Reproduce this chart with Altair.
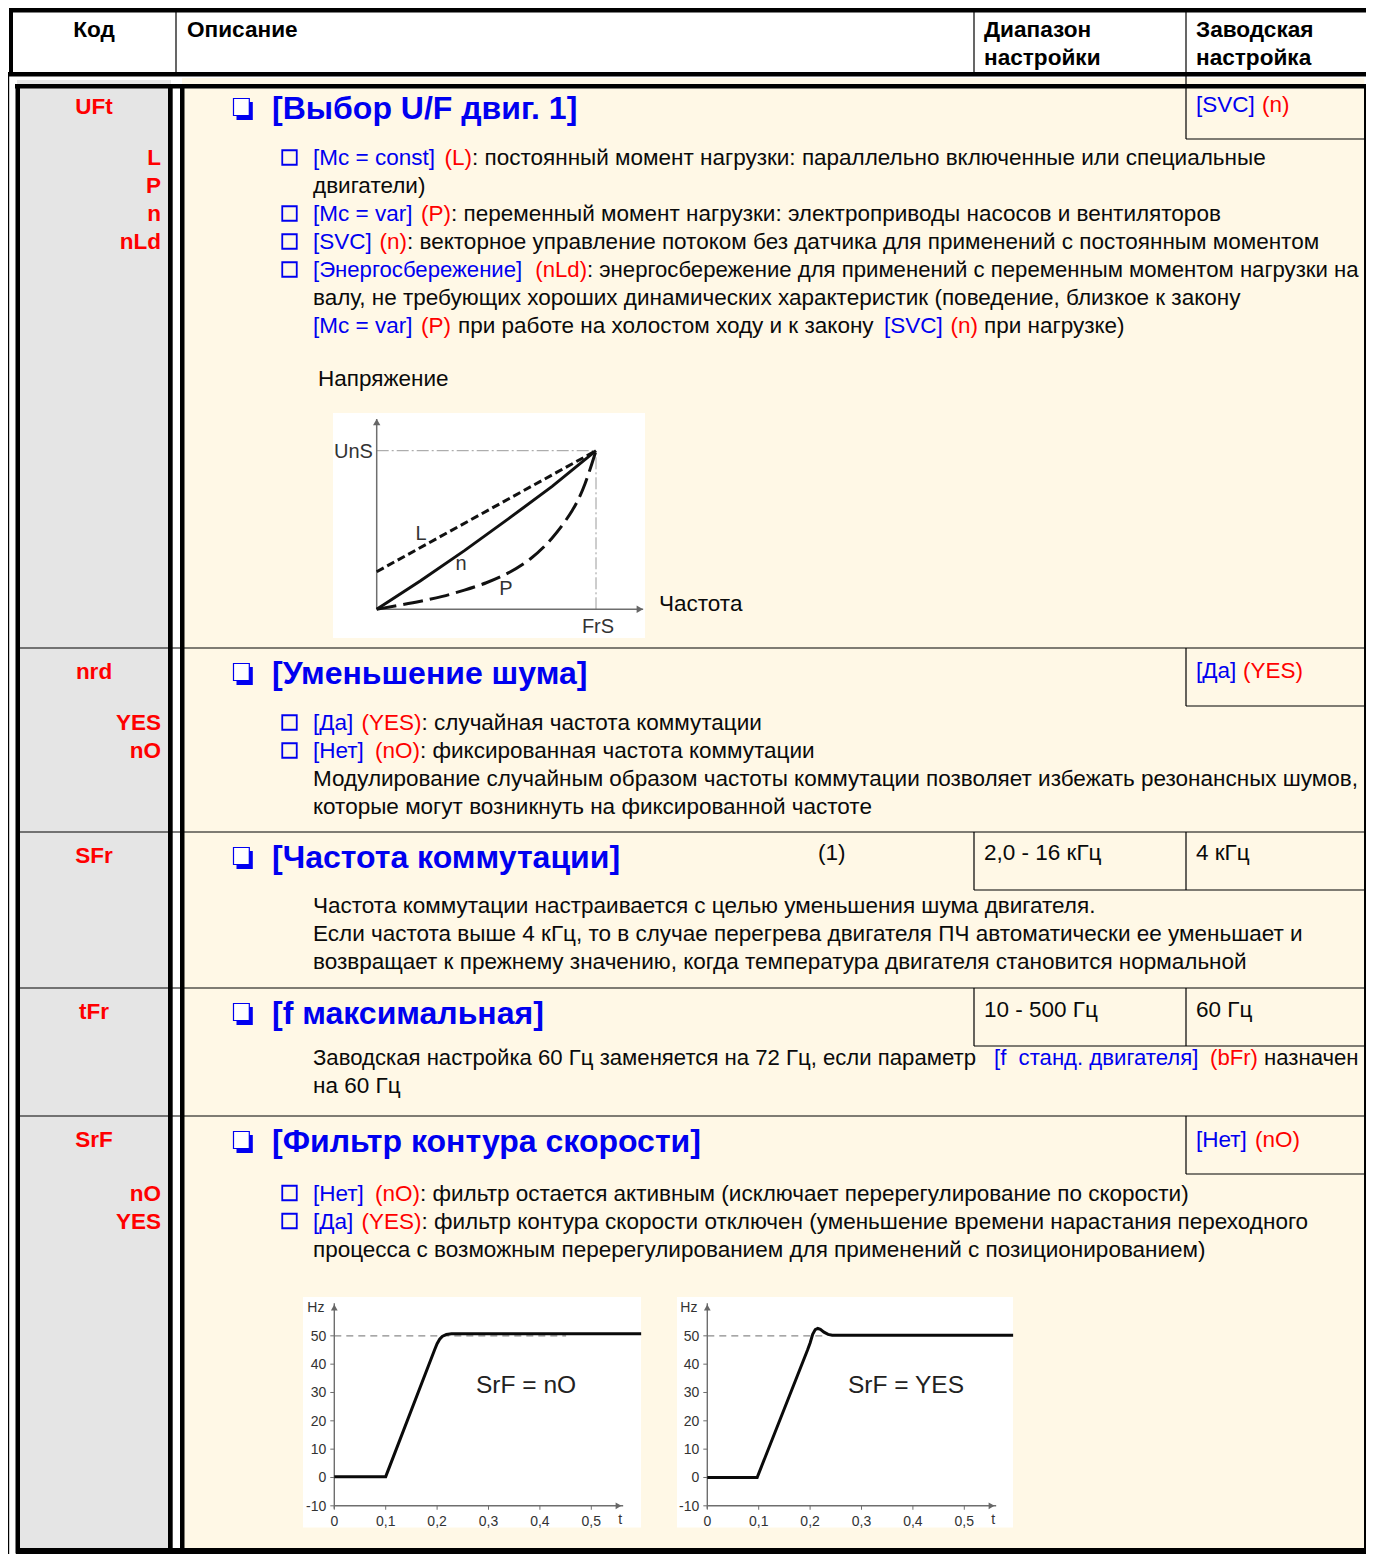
import altair as alt
import pandas as pd

# ======================= CONTENT =======================
header_labels = ["Код", "Описание", "Диапазон", "настройки", "Заводская", "настройка"]
codes = ["UFt", "nrd", "SFr", "tFr", "SrF"]
sub_codes = [["L", "P", "n", "nLd"], ["YES", "nO"], [], [], ["nO", "YES"]]
titles = ["[Выбор U/F двиг. 1]", "[Уменьшение шума]", "[Частота коммутации]",
          "[f максимальная]", "[Фильтр контура скорости]"]
range_values = ["", "", "2,0 - 16 кГц", "10 - 500 Гц", ""]
default_values = [["[SVC]", "(n)"], ["[Да]", "(YES)"], ["4 кГц"], ["60 Гц"], ["[Нет]", "(nO)"]]
note_mark = "(1)"

body_lines = [
    [["[Mc = const]", "(L)", ": постоянный момент нагрузки: параллельно включенные или специальные"],
     ["двигатели)"],
     ["[Mc = var]", "(P)", ": переменный момент нагрузки: электроприводы насосов и вентиляторов"],
     ["[SVC]", "(n)", ": векторное управление потоком без датчика для применений с постоянным моментом"],
     ["[Энергосбережение]", "(nLd)", ": энергосбережение для применений с переменным моментом нагрузки на"],
     ["валу, не требующих хороших динамических характеристик (поведение, близкое к закону"],
     ["[Mc = var]", "(P)", "при работе на холостом ходу и к закону", "[SVC]", "(n)", "при нагрузке)"]],
    [["[Да]", "(YES)", ": случайная частота коммутации"],
     ["[Нет]", "(nO)", ": фиксированная частота коммутации"],
     ["Модулирование случайным образом частоты коммутации позволяет избежать резонансных шумов,"],
     ["которые могут возникнуть на фиксированной частоте"]],
    [["Частота коммутации настраивается с целью уменьшения шума двигателя."],
     ["Если частота выше 4 кГц, то в случае перегрева двигателя ПЧ автоматически ее уменьшает и"],
     ["возвращает к прежнему значению, когда температура двигателя становится нормальной"]],
    [["Заводская настройка 60 Гц заменяется на 72 Гц, если параметр", "[f\u00a0 станд. двигателя]", "(bFr)", "назначен"],
     ["на 60 Гц"]],
    [["[Нет]", "(nO)", ": фильтр остается активным (исключает перерегулирование по скорости)"],
     ["[Да]", "(YES)", ": фильтр контура скорости отключен (уменьшение времени нарастания переходного"],
     ["процесса с возможным перерегулированием для применений с позиционированием)"]],
]

# U/F diagram (normalised frequency f, voltage U)
uf_axis_labels = ["UnS", "FrS", "Напряжение", "Частота"]
uf_curve_labels = ["L", "n", "P"]
uf_L_f = [0.0, 1.0]
uf_L_U = [0.237, 1.0]
uf_n_f = [0.0, 0.2, 0.4, 0.6, 0.8, 1.0]
uf_n_U = [0.0, 0.18, 0.37, 0.57, 0.775, 1.0]
uf_P_f = [0.0, 0.1, 0.2, 0.3, 0.4, 0.5, 0.6, 0.7, 0.8, 0.9, 0.95, 1.0]
uf_P_U = [0.0, 0.025, 0.05, 0.08, 0.12, 0.165, 0.225, 0.31, 0.44, 0.63, 0.78, 1.0]

# step responses (t in s, Hz)
step_t_no = [0.0, 0.1, 0.195, 0.2, 0.205, 0.21, 0.218, 0.228, 0.597]
step_hz_no = [0.3, 0.3, 45.0, 47.2, 48.8, 49.8, 50.5, 50.7, 50.7]
step_t_yes = [0.0, 0.097, 0.195, 0.2, 0.205, 0.21, 0.215, 0.22, 0.227, 0.235, 0.243, 0.595]
step_hz_yes = [0.0, 0.0, 45.0, 47.5, 50.5, 52.2, 52.6, 52.3, 51.3, 50.5, 50.2, 50.2]
ref_t_no = [0.0, 0.451]
ref_t_yes = [0.0, 0.233]
ref_hz = [50.0, 50.0]
hz_ticks = [50, 40, 30, 20, 10, 0, -10]
t_ticks = [0.0, 0.1, 0.2, 0.3, 0.4, 0.5]
t_tick_labels = ["0", "0,1", "0,2", "0,3", "0,4", "0,5"]
step_titles = ["SrF = nO", "SrF = YES"]

# ======================= STYLE / LAYOUT =======================
FONT = "Liberation Sans"
BLUE = "#0000F0"
RED = "#FF0000"
BLACK = "#000000"
GRAY_COL = "#E5E5E5"
CREAM = "#FFF8E6"
CKEY = {"b": BLUE, "r": RED, "k": "#0A0A0A"}
FS_BODY = 22.5
FS_TIGHT = 22.15
FS_HEAD = 22.6
FS_TITLE = 32
FS_CODE = 22.5

PW, PH = 1358, 1546
# page-pixel frame; the last few pixels at the right and bottom are squeezed so the page fits
SX = alt.Scale(domain=[8, 1362, 1374], range=[0, 1354, 1358], nice=False, zero=False)
SY = alt.Scale(domain=[8, 1262, 1300, 1562], range=[0, 1254, 1288, 1546], nice=False, zero=False)


def X(f):
    return alt.X(f, type="quantitative", scale=SX, axis=None)


def Y(f):
    return alt.Y(f, type="quantitative", scale=SY, axis=None)


def rects(rows, **mk):
    df = pd.DataFrame(rows, columns=["x1", "x2", "y1", "y2", "c"])
    return alt.Chart(df).mark_rect(**mk).encode(
        x=X("x1"), x2=alt.X2("x2"), y=Y("y1"), y2=alt.Y2("y2"),
        color=alt.Color("c:N", scale=None))


def texts(rows, size, weight="normal", align="left", font=FONT):
    df = pd.DataFrame(rows, columns=["t", "px", "py", "c"])
    return alt.Chart(df).mark_text(align=align, baseline="alphabetic", fontSize=size,
                                   fontWeight=weight, font=font).encode(
        x=X("px"), y=Y("py"), text=alt.Text("t", type="nominal"),
        color=alt.Color("c:N", scale=None))


def texts_sized(rows, align="left"):
    df = pd.DataFrame(rows, columns=["t", "px", "py", "c", "s"])
    return alt.Chart(df).mark_text(align=align, baseline="alphabetic", font=FONT).encode(
        x=X("px"), y=Y("py"), text=alt.Text("t", type="nominal"),
        color=alt.Color("c:N", scale=None), size=alt.Size("s", type="quantitative", scale=None))


layers = []

# ---- backgrounds ----
layers.append(rects([
    (182, 1369, 78, 1556, CREAM),
    (17, 171, 80, 1556, GRAY_COL),
    (333, 645, 413, 638, "#FFFFFF"),
    (303, 641, 1301, 1535, "#FFFFFF"),
    (677, 1013, 1301, 1535, "#FFFFFF"),
]))

# ---- thick borders ----
layers.append(rects([
    (9, 1374, 8, 12.5, BLACK),
    (9, 13, 8, 74, BLACK),
    (3, 1374, 72, 76.5, BLACK),
    (3, 9.2, 72, 1562, BLACK),
    (15, 1374, 84, 88.5, BLACK),
    (15.5, 20, 84, 1561.5, BLACK),
    (168, 172.7, 84, 1556, BLACK),
    (180, 184.5, 84, 1556, BLACK),
    (1368, 1374, 84, 1562, BLACK),
    (16, 1374, 1556, 1562, BLACK),
]))

# ---- thin rules ----
thin_v = [(176, 12, 72), (974, 12, 72), (1186, 12, 139), (1186, 648, 706),
          (974, 832, 890), (1186, 832, 890), (974, 988, 1046), (1186, 988, 1046),
          (1186, 1116, 1174)]
thin_h = [(139, 1186, 1369), (648, 20, 1369), (706, 1186, 1369), (832, 20, 1369),
          (890, 974, 1369), (988, 20, 1369), (1046, 974, 1369), (1116, 20, 1369),
          (1174, 1186, 1369)]
thin_rows = [(x - 0.6, x + 0.6, a, b, BLACK) for x, a, b in thin_v] + \
            [(a, b, y - 0.6, y + 0.6, BLACK) for y, a, b in thin_h]
layers.append(rects(thin_rows))

# ---- header ----
hdr_pos = [(94, 37), (187, 37), (984, 37), (984, 65), (1196, 37), (1196, 65)]
layers.append(texts([(header_labels[0], hdr_pos[0][0], hdr_pos[0][1], BLACK)], FS_HEAD, "bold", "center"))
layers.append(texts([(header_labels[i], hdr_pos[i][0], hdr_pos[i][1], BLACK) for i in range(1, 6)],
                    FS_HEAD, "bold", "left"))

# ---- rows ----
title_base = [119, 684, 868, 1024, 1152]
code_base = [113.5, 678.5, 862.5, 1018.5, 1146.5]
sub_base = [[165, 193, 221, 249], [730, 758], [], [], [1200.5, 1228.5]]
default_base = [111.7, 677.5, 859.5, 1016.7, 1146.7]
default_x = [[1196, 1262], [1196, 1243], [1196], [1196], [1196, 1255]]
default_c = [["b", "r"], ["b", "r"], ["k"], ["k"], ["b", "r"]]

layers.append(texts([(codes[i], 94, code_base[i], RED) for i in range(5)], FS_CODE, "bold", "center"))
layers.append(texts([(s, 161, sub_base[i][j], RED) for i in range(5) for j, s in enumerate(sub_codes[i])],
                    FS_CODE, "bold", "right"))

# title dingbat squares
sq_shadow = [(236.5, 252.8, tb - 17, tb + 1, BLUE) for tb in title_base]
layers.append(rects(sq_shadow))
sq_df = pd.DataFrame([(233.5, 249.3, tb - 20.5, tb - 3.5) for tb in title_base],
                     columns=["x1", "x2", "y1", "y2"])
layers.append(alt.Chart(sq_df).mark_rect(fill="#FFFFFF", stroke=BLUE, strokeWidth=1.2).encode(
    x=X("x1"), x2=alt.X2("x2"), y=Y("y1"), y2=alt.Y2("y2")))
layers.append(texts([(titles[i], 272, title_base[i], BLUE) for i in range(5)], FS_TITLE, "bold", "left"))

# defaults / ranges
drows = []
for i in range(5):
    for j, s in enumerate(default_values[i]):
        drows.append((s, default_x[i][j], default_base[i], CKEY[default_c[i][j]]))
    if range_values[i]:
        drows.append((range_values[i], 984, default_base[i], CKEY["k"]))
drows.append((note_mark, 818, 860, CKEY["k"]))
layers.append(texts(drows, FS_BODY))

# body lines: anchor x and alignment of every segment ("l" = starts at x, "r" = ends at x)
body_base = [[165, 193, 221, 249, 277, 305, 333],
             [730, 758, 786, 814],
             [912.5, 940.5, 968.5],
             [1065, 1093],
             [1200.5, 1228.5, 1256.5]]
seg_x = [
    [[313, 472, 472], [313], [313, 451, 451], [313, 407, 407], [313, 587, 587], [313],
     [313, 451, 458, 884, 978, 984]],
    [[313, 421.5, 421.5], [313, 420, 420], [313], [313]],
    [[313], [313], [313]],
    [[313, 994, 1258, 1264], [313]],
    [[313, 420, 420], [313, 421.5, 421.5], [313]],
]
seg_a = [
    [["l", "r", "l"], ["l"], ["l", "r", "l"], ["l", "r", "l"], ["l", "r", "l"], ["l"],
     ["l", "r", "l", "l", "r", "l"]],
    [["l", "r", "l"], ["l", "r", "l"], ["l"], ["l"]],
    [["l"], ["l"], ["l"]],
    [["l", "l", "r", "l"], ["l"]],
    [["l", "r", "l"], ["l", "r", "l"], ["l"]],
]
seg_c = [
    [["b", "r", "k"], ["k"], ["b", "r", "k"], ["b", "r", "k"], ["b", "r", "k"], ["k"],
     ["b", "r", "k", "b", "r", "k"]],
    [["b", "r", "k"], ["b", "r", "k"], ["k"], ["k"]],
    [["k"], ["k"], ["k"]],
    [["k", "b", "r", "k"], ["k"]],
    [["b", "r", "k"], ["b", "r", "k"], ["k"]],
]
tight_lines = {(0, 4), (3, 0)}   # lines that run right up to the border
bullets = [[0, 2, 3, 4], [0, 1], [], [], [0, 1]]
rows_l, rows_r = [], []
bul_rows = []
for i, row in enumerate(body_lines):
    for k, line in enumerate(row):
        fs = FS_TIGHT if (i, k) in tight_lines else FS_BODY
        for j, s in enumerate(line):
            item = (s, seg_x[i][k][j], body_base[i][k], CKEY[seg_c[i][k][j]], fs)
            (rows_r if seg_a[i][k][j] == "r" else rows_l).append(item)
        if k in bullets[i]:
            bul_rows.append((289.5, body_base[i][k] - 7.5))
layers.append(texts_sized(rows_l, align="left"))
layers.append(texts_sized(rows_r, align="right"))
bul_df = pd.DataFrame(bul_rows, columns=["px", "py"])
layers.append(alt.Chart(bul_df).mark_point(shape="square", filled=False, size=210,
                                           stroke=BLUE, strokeWidth=1.8, opacity=1).encode(
    x=X("px"), y=Y("py")))


# ---- diagram helpers ----
def frame_chart(df, frame, ucol="u", vcol="v"):
    x0, sx, y0, sy = frame
    return alt.Chart(df).transform_calculate(
        px=f"{x0} + {sx} * datum.{ucol}", py=f"{y0} - {sy} * datum.{vcol}")


def curve(us, vs, frame, **mk):
    df = pd.DataFrame({"u": us, "v": vs, "o": list(range(len(us)))})
    return frame_chart(df, frame).mark_line(**mk).encode(
        x=X("px"), y=Y("py"), order=alt.Order("o", type="quantitative"))


def seg(u1, v1, u2, v2, frame, **mk):
    x0, sx, y0, sy = frame
    df = pd.DataFrame({"u": [u1], "v": [v1], "u2": [u2], "v2": [v2]})
    return alt.Chart(df).transform_calculate(
        px=f"{x0} + {sx} * datum.u", py=f"{y0} - {sy} * datum.v",
        px2=f"{x0} + {sx} * datum.u2", py2=f"{y0} - {sy} * datum.v2").mark_rule(**mk).encode(
        x=X("px"), y=Y("py"), x2=alt.X2("px2"), y2=alt.Y2("py2"))


def arrow(u, v, frame, shape, size=55, color="#666666"):
    df = pd.DataFrame({"u": [u], "v": [v]})
    return frame_chart(df, frame).mark_point(shape=shape, filled=True, size=size,
                                             color=color, opacity=1).encode(x=X("px"), y=Y("py"))


# ---- U/F diagram ----
UF = (376.7, 219.3, 609.3, 158.6)
AX = "#6E6E6E"
layers.append(seg(0, 1, 1, 1, UF, color="#9A9A9A", strokeWidth=1, strokeDash=[12, 3, 2, 3]))
layers.append(seg(1, 0, 1, 1, UF, color="#9A9A9A", strokeWidth=1, strokeDash=[12, 3, 2, 3]))
layers.append(seg(0, 0, 0, 1.2, UF, color=AX, strokeWidth=1.5))
layers.append(seg(0, 0, 1.215, 0, UF, color=AX, strokeWidth=1.5))
layers.append(arrow(0, 1.18, UF, "triangle-up"))
layers.append(arrow(1.2, 0, UF, "triangle-right"))
layers.append(curve(uf_L_f, uf_L_U, UF, color="#111111", strokeWidth=3, strokeDash=[8, 4]))
layers.append(curve(uf_n_f, uf_n_U, UF, color="#111111", strokeWidth=3))
layers.append(curve(uf_P_f, uf_P_U, UF, color="#111111", strokeWidth=3, strokeDash=[20, 7],
                    interpolate="basis"))
layers.append(texts([(uf_axis_labels[0], 334, 458, "#333333")], 20))
layers.append(texts([(uf_axis_labels[1], 598, 633, "#333333")], 20, align="center"))
layers.append(texts([(uf_curve_labels[0], 421, 540, "#333333"), (uf_curve_labels[1], 461, 570, "#333333"),
                     (uf_curve_labels[2], 506, 595, "#333333")], 20, align="center"))
layers.append(texts([(uf_axis_labels[2], 318, 386, CKEY["k"]), (uf_axis_labels[3], 659, 611, CKEY["k"])], FS_BODY))

# ---- step response diagrams ----
frames = [(334.3, 514, 1484.3, 2.877), (707.3, 514, 1484.3, 2.877)]
step_t = [step_t_no, step_t_yes]
step_hz = [step_hz_no, step_hz_yes]
ref_t = [ref_t_no, ref_t_yes]
title_x = [476, 848]
for c in range(2):
    F = frames[c]
    x0, sx, y0, sy = F
    layers.append(curve(ref_t[c], ref_hz, F, color="#8A8A8A", strokeWidth=1.3, strokeDash=[7, 5]))
    layers.append(seg(0, -11, 0, 61.5, F, color=AX, strokeWidth=1.4))
    layers.append(seg(0, -10, 0.562, -10, F, color=AX, strokeWidth=1.4))
    layers.append(arrow(0, 60, F, "triangle-up", size=45))
    layers.append(arrow(0.553, -10, F, "triangle-right", size=45))
    ydf = pd.DataFrame({"v": hz_ticks, "lab": [str(v) for v in hz_ticks]})
    layers.append(alt.Chart(ydf).transform_calculate(
        px=f"{x0} - 4", px2=f"{x0}", py=f"{y0} - {sy} * datum.v").mark_rule(
        color=AX, strokeWidth=1).encode(x=X("px"), x2=alt.X2("px2"), y=Y("py")))
    layers.append(alt.Chart(ydf).transform_calculate(
        px=f"{x0} - 8", py=f"{y0} - {sy} * datum.v + 5").mark_text(
        align="right", baseline="alphabetic", fontSize=14, font=FONT, color="#333333").encode(
        x=X("px"), y=Y("py"), text=alt.Text("lab", type="nominal")))
    xdf = pd.DataFrame({"u": t_ticks, "lab": t_tick_labels})
    layers.append(alt.Chart(xdf).transform_calculate(
        px=f"{x0} + {sx} * datum.u", py=f"{y0} - {sy} * -10", py2=f"{y0} - {sy} * -10 + 4").mark_rule(
        color=AX, strokeWidth=1).encode(x=X("px"), y=Y("py"), y2=alt.Y2("py2")))
    layers.append(alt.Chart(xdf).transform_calculate(
        px=f"{x0} + {sx} * datum.u", py=f"{y0} - {sy} * -10 + 20").mark_text(
        align="center", baseline="alphabetic", fontSize=14, font=FONT, color="#333333").encode(
        x=X("px"), y=Y("py"), text=alt.Text("lab", type="nominal")))
    layers.append(texts([("Hz", x0 - 27, 1316, "#333333"), ("t", x0 + 284, 1532, "#333333")], 14))
    layers.append(curve(step_t[c], step_hz[c], F, color="#0A0A0A", strokeWidth=3))
    layers.append(texts([(step_titles[c], title_x[c], 1398, "#222222")], 24.5))

chart = alt.layer(*layers).properties(
    width=PW, height=PH, padding=0, autosize=alt.AutoSizeParams(type="none"),
    background="#FFFFFF"
).configure_view(stroke=None)

chart.save("out.html", embed_options={"renderer": "svg", "actions": False})
